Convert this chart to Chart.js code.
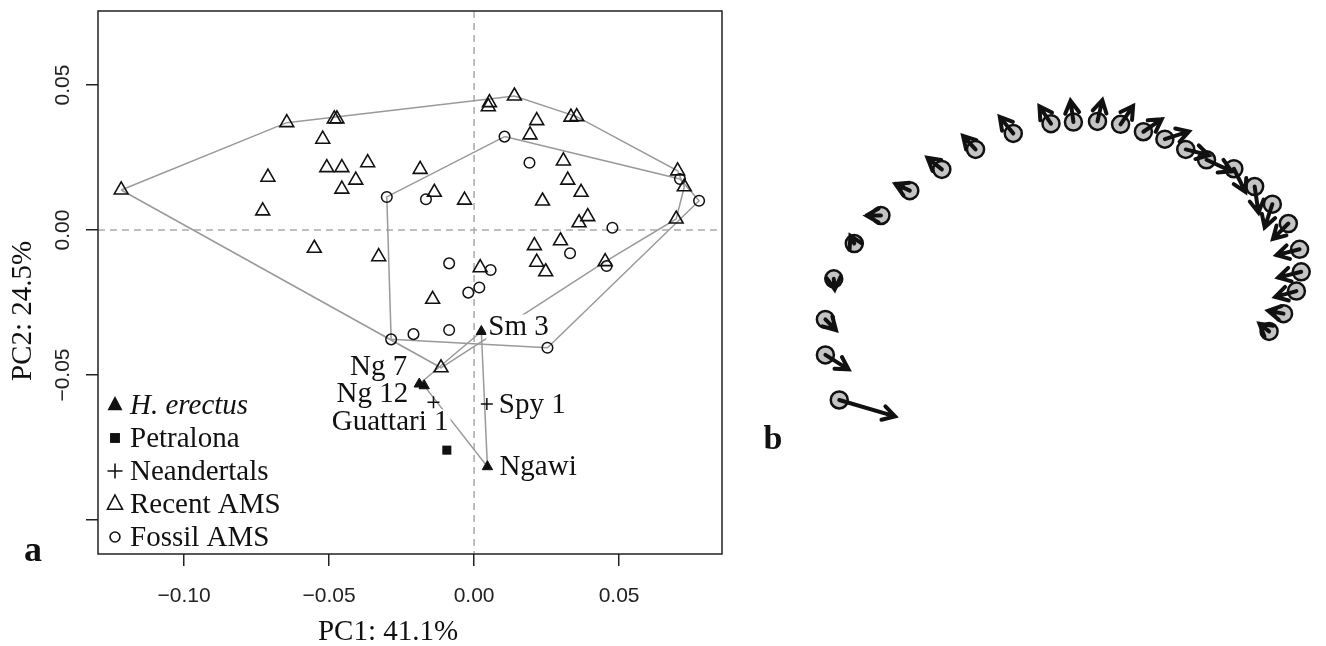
<!DOCTYPE html>
<html>
<head>
<meta charset="utf-8">
<script src="https://cdn.jsdelivr.net/npm/chart.js@4.4.1/dist/chart.umd.min.js"></script>
<style>
  body { margin: 0; background: #fff; }
  #wrap { position: relative; width: 1326px; height: 646px; }
  #pca { position: absolute; left: 0; top: 0; }
  #vec { position: absolute; left: 740px; top: 0; }
</style>
</head>
<body>
<div id="wrap">
  <canvas id="pca" width="760" height="646"></canvas>
  <canvas id="vec" width="586" height="646"></canvas>
</div>
<script>
// ---- panel a data (PC1, PC2) ----
const recentX = [-0.1217, -0.0646, -0.0482, -0.0473, -0.0522, -0.0508, -0.0456, -0.0367, -0.0408, -0.0456,
  -0.0711, -0.0729, -0.0551, -0.0329, 0.0139, 0.0053, 0.0049, 0.0334, 0.0354, 0.0216,
  0.0193, -0.0186, 0.0308, 0.0323, 0.0369, -0.0137, -0.0033, 0.0236, 0.0392, 0.0362,
  0.0702, 0.0725, 0.0697, 0.0208, 0.0298, 0.0216, 0.0452, 0.0021, 0.0247, -0.0143, -0.0114];
const recentY = [0.0138, 0.0370, 0.0383, 0.0383, 0.0313, 0.0215, 0.0215, 0.0232, 0.0172, 0.0141,
  0.0182, 0.0066, -0.0063, -0.0092, 0.0462, 0.0439, 0.0425, 0.0389, 0.0391, 0.0377,
  0.0328, 0.0209, 0.0238, 0.0172, 0.0130, 0.0130, 0.0103, 0.0100, 0.0046, 0.0025,
  0.0204, 0.0149, 0.0038, -0.0054, -0.0037, -0.0111, -0.0109, -0.0130, -0.0144, -0.0239, -0.0475];
const fossilX = [-0.0301, 0.0105, 0.0191, 0.0710, 0.0776, -0.0166, 0.0477, 0.0331, -0.0086, 0.0057,
  0.0457, -0.0020, 0.0018, -0.0209, -0.0286, -0.0086, 0.0253];
const fossilY = [0.0114, 0.0322, 0.0232, 0.0176, 0.0101, 0.0106, 0.0008, -0.0080, -0.0115, -0.0138,
  -0.0124, -0.0216, -0.0198, -0.0359, -0.0377, -0.0345, -0.0406];
const erectusNames = ['Sm 3', 'Ng 7', 'Ng 12', 'Ngawi'];
const erectusX = [0.0025, -0.0189, -0.0172, 0.0046];
const erectusY = [-0.0350, -0.0531, -0.0537, -0.0816];
const petralonaX = [-0.0094];
const petralonaY = [-0.0759];
const neanderNames = ['Guattari 1', 'Spy 1'];
const neanderX = [-0.0140, 0.0044];
const neanderY = [-0.0594, -0.0600];

// hull vertex order (indices into the arrays above)
const recentHull = [0, 1, 14, 18, 30, 31, 32, 36, 40, 0];
const fossilHull = [1, 3, 4, 16, 14, 0, 1];
const erectusHull = [1, 0, 3, 2, 1];

const xTicks = [-0.10, -0.05, 0.00, 0.05];
const yTicks = [0.05, 0.00, -0.05, -0.10];
const yTickLabels = [0.05, 0.00, -0.05];
const legendLabels = ['H. erectus', 'Petralona', 'Neandertals', 'Recent AMS', 'Fossil AMS'];

// ---- panel b data (landmark positions and displacement vectors) ----
const lmX = [91.7, 77.3, 77.3, 86, 107.3, 135, 165, 198.3, 233.3, 272.5, 311.7, 335, 360, 384,
  407.7, 430, 451.7, 473.3, 501.7, 523.3, 541.7, 558.3, 570, 571.7, 566.7, 553.3, 538.3];
const lmY = [243.3, 290, 326.7, 368.7, 405.3, 434.3, 460, 482, 502.7, 519.3, 529.3, 531, 531.7, 528.7,
  521, 513.3, 502.7, 492, 482.7, 464.3, 446, 426, 399.3, 376, 356, 332.7, 314.3];
const vecX = [58, 24, 11, 1, -4, -15, -15, -15, -13, -14, -12, -3, 5, 13,
  19, 25, 24, 26, 12, 4, -8, -16, -24, -24, -22, -16, -10];
const vecY = [-17, -15, -11, -11, 8, 0, 7, 12, 14, 17, 18, 22, 22, 19,
  13, 8, -6, -12, -24, -27, -24, -16, -6, -6, -6, 3, 8];

const SERIF = '"Liberation Serif", "Times New Roman", serif';
const SANS = '"Liberation Sans", Arial, sans-serif';

const fmt = v => (v < 0 ? '\u2212' : '') + Math.abs(v).toFixed(2);
const pts = (xs, ys) => xs.map((x, i) => ({ x: x, y: ys[i] }));
const hullPts = (idx, xs, ys) => idx.map(i => ({ x: xs[i], y: ys[i] }));

function symbol(ctx, kind, x, y, s) {
  ctx.save();
  ctx.strokeStyle = '#111';
  ctx.fillStyle = '#111';
  ctx.lineWidth = 1.6;
  ctx.beginPath();
  if (kind === 'tri' || kind === 'openTri') {
    ctx.moveTo(x, y - s * 0.6);
    ctx.lineTo(x + s * 0.5, y + s * 0.35);
    ctx.lineTo(x - s * 0.5, y + s * 0.35);
    ctx.closePath();
    if (kind === 'tri') ctx.fill(); else ctx.stroke();
  } else if (kind === 'square') {
    ctx.rect(x - s * 0.33, y - s * 0.33, s * 0.66, s * 0.66);
    ctx.fill();
  } else if (kind === 'plus') {
    ctx.moveTo(x - s * 0.5, y); ctx.lineTo(x + s * 0.5, y);
    ctx.moveTo(x, y - s * 0.5); ctx.lineTo(x, y + s * 0.5);
    ctx.stroke();
  } else {
    ctx.arc(x, y, s * 0.33, 0, Math.PI * 2);
    ctx.stroke();
  }
  ctx.restore();
}

function boxLabel(ctx, text, x, y, align) {
  ctx.font = '29px ' + SERIF;
  ctx.textAlign = align;
  ctx.textBaseline = 'middle';
  const w = ctx.measureText(text).width;
  const x0 = align === 'left' ? x - 2 : x - w - 2;
  ctx.fillStyle = '#fff';
  ctx.fillRect(x0, y - 12, w + 4, 26);
  ctx.fillStyle = '#111';
  ctx.fillText(text, x, y + 1);
}

const pcaDecor = {
  id: 'pcaDecor',
  beforeDatasetsDraw(chart) {
    const { ctx, chartArea: a, scales: { x, y } } = chart;
    ctx.save();
    ctx.strokeStyle = '#aaa';
    ctx.lineWidth = 1.5;
    ctx.setLineDash([7, 5]);
    ctx.beginPath();
    const x0 = x.getPixelForValue(0), y0 = y.getPixelForValue(0);
    ctx.moveTo(x0, a.top); ctx.lineTo(x0, a.bottom);
    ctx.moveTo(a.left, y0); ctx.lineTo(a.right, y0);
    ctx.stroke();
    ctx.restore();
  },
  afterDatasetsDraw(chart) {
    const { ctx, chartArea: a, scales: { x, y } } = chart;
    ctx.save();
    // labels of the fossil hominins
    const px = (xs, i) => x.getPixelForValue(xs[i]);
    const py = (ys, i) => y.getPixelForValue(ys[i]);
    boxLabel(ctx, erectusNames[0], px(erectusX, 0) + 7, py(erectusY, 0) - 5, 'left');
    boxLabel(ctx, erectusNames[1], px(erectusX, 1) - 12, py(erectusY, 1) - 18, 'right');
    boxLabel(ctx, erectusNames[2], px(erectusX, 2) - 16, py(erectusY, 2) + 8, 'right');
    boxLabel(ctx, erectusNames[3], px(erectusX, 3) + 12, py(erectusY, 3), 'left');
    boxLabel(ctx, neanderNames[0], px(neanderX, 0) + 15, py(neanderY, 0) + 19, 'right');
    boxLabel(ctx, neanderNames[1], px(neanderX, 1) + 12, py(neanderY, 1), 'left');

    // legend
    const kinds = ['tri', 'square', 'plus', 'openTri', 'circle'];
    legendLabels.forEach((t, i) => {
      const ly = 405 + i * 33;
      symbol(ctx, kinds[i], 115, ly, 15);
      ctx.font = (i === 0 ? 'italic ' : '') + '29px ' + SERIF;
      ctx.textAlign = 'left';
      ctx.textBaseline = 'middle';
      ctx.fillStyle = '#111';
      ctx.fillText(t, 130, ly + 1);
    });

    // frame
    ctx.strokeStyle = '#222';
    ctx.lineWidth = 1.5;
    ctx.strokeRect(a.left, a.top, a.right - a.left, a.bottom - a.top);

    // y tick labels, rotated as in R
    ctx.font = '21px ' + SANS;
    ctx.fillStyle = '#222';
    ctx.textAlign = 'center';
    ctx.textBaseline = 'middle';
    yTickLabels.forEach(v => {
      ctx.save();
      ctx.translate(63, y.getPixelForValue(v));
      ctx.rotate(-Math.PI / 2);
      ctx.fillText(fmt(v), 0, 0);
      ctx.restore();
    });

    // axis titles and panel letter
    ctx.font = '29px ' + SERIF;
    ctx.fillStyle = '#111';
    ctx.fillText('PC1: 41.1%', 388, 632);
    ctx.save();
    ctx.translate(23, 311);
    ctx.rotate(-Math.PI / 2);
    ctx.fillText('PC2: 24.5%', 0, 0);
    ctx.restore();
    ctx.font = 'bold 36px ' + SERIF;
    ctx.fillText('a', 33, 552);
    ctx.restore();
  }
};

const hullStyle = {
  type: 'line', showLine: true, pointRadius: 0, borderColor: '#9a9a9a', borderWidth: 1.5,
  fill: false, tension: 0
};

new Chart(document.getElementById('pca'), {
  type: 'scatter',
  data: {
    datasets: [
      { label: 'H. erectus', data: pts(erectusX, erectusY), pointStyle: 'triangle', pointRadius: 6,
        backgroundColor: '#111', borderColor: '#111', borderWidth: 1 },
      { label: 'Petralona', data: pts(petralonaX, petralonaY), pointStyle: 'rect', pointRadius: 6.4,
        backgroundColor: '#111', borderColor: '#111', borderWidth: 0 },
      { label: 'Neandertals', data: pts(neanderX, neanderY), pointStyle: 'cross', pointRadius: 6,
        borderColor: '#111', borderWidth: 1.5 },
      { label: 'Recent AMS', data: pts(recentX, recentY), pointStyle: 'triangle', pointRadius: 8,
        backgroundColor: 'rgba(0,0,0,0)', borderColor: '#111', borderWidth: 1.6 },
      { label: 'Fossil AMS', data: pts(fossilX, fossilY), pointStyle: 'circle', pointRadius: 5.3,
        backgroundColor: 'rgba(0,0,0,0)', borderColor: '#111', borderWidth: 1.5 },
      Object.assign({ label: 'recent hull', data: hullPts(recentHull, recentX, recentY) }, hullStyle),
      Object.assign({ label: 'fossil hull', data: hullPts(fossilHull, fossilX, fossilY) }, hullStyle),
      Object.assign({ label: 'erectus hull', data: hullPts(erectusHull, erectusX, erectusY) }, hullStyle)
    ]
  },
  options: {
    responsive: false,
    animation: false,
    layout: { padding: { top: 11, right: 38, left: 0, bottom: 0 } },
    plugins: { legend: { display: false }, tooltip: { enabled: false } },
    scales: {
      x: {
        type: 'linear', min: -0.1297, max: 0.0855,
        afterBuildTicks: s => { s.ticks = xTicks.map(v => ({ value: v })); },
        afterFit: s => { s.height = 92; },
        grid: { drawOnChartArea: false, drawTicks: true, tickLength: 12, color: '#222', lineWidth: 1.5 },
        border: { display: false },
        ticks: { callback: v => fmt(v), font: { family: SANS, size: 21 }, color: '#222', padding: 18,
          maxRotation: 0, autoSkip: false }
      },
      y: {
        type: 'linear', min: -0.1117, max: 0.0755,
        afterBuildTicks: s => { s.ticks = yTicks.map(v => ({ value: v })); },
        afterFit: s => { s.width = 98; },
        grid: { drawOnChartArea: false, drawTicks: true, tickLength: 12, color: '#222', lineWidth: 1.5 },
        border: { display: false },
        ticks: { display: false }
      }
    }
  },
  plugins: [pcaDecor]
});

// ---- panel b ----
const arrows = {
  id: 'arrows',
  afterDatasetsDraw(chart) {
    const { ctx, scales: { x, y } } = chart;
    ctx.save();
    ctx.strokeStyle = '#111';
    ctx.lineWidth = 4;
    ctx.lineCap = 'round';
    ctx.lineJoin = 'miter';
    lmX.forEach((v, i) => {
      const x0 = x.getPixelForValue(v), y0 = y.getPixelForValue(lmY[i]);
      const x1 = x.getPixelForValue(v + vecX[i]), y1 = y.getPixelForValue(lmY[i] + vecY[i]);
      const ang = Math.atan2(y1 - y0, x1 - x0), h = 14;
      ctx.beginPath();
      ctx.moveTo(x0, y0); ctx.lineTo(x1, y1);
      ctx.moveTo(x1 - h * Math.cos(ang - Math.PI / 6), y1 - h * Math.sin(ang - Math.PI / 6));
      ctx.lineTo(x1, y1);
      ctx.lineTo(x1 - h * Math.cos(ang + Math.PI / 6), y1 - h * Math.sin(ang + Math.PI / 6));
      ctx.stroke();
    });
    ctx.font = 'bold 34px ' + SERIF;
    ctx.fillStyle = '#111';
    ctx.textAlign = 'center';
    ctx.textBaseline = 'middle';
    ctx.fillText('b', 33, 440);
    ctx.restore();
  }
};

new Chart(document.getElementById('vec'), {
  type: 'scatter',
  data: {
    datasets: [{ label: 'landmarks', data: pts(lmX, lmY), pointRadius: 8.5,
      backgroundColor: '#c4c4c4', borderColor: '#111', borderWidth: 2.5 }]
  },
  options: {
    responsive: false,
    animation: false,
    layout: { padding: 0 },
    plugins: { legend: { display: false }, tooltip: { enabled: false } },
    scales: {
      x: { type: 'linear', min: 0, max: 586, display: false },
      y: { type: 'linear', min: 0, max: 646, display: false }
    }
  },
  plugins: [arrows]
});
</script>
</body>
</html>
